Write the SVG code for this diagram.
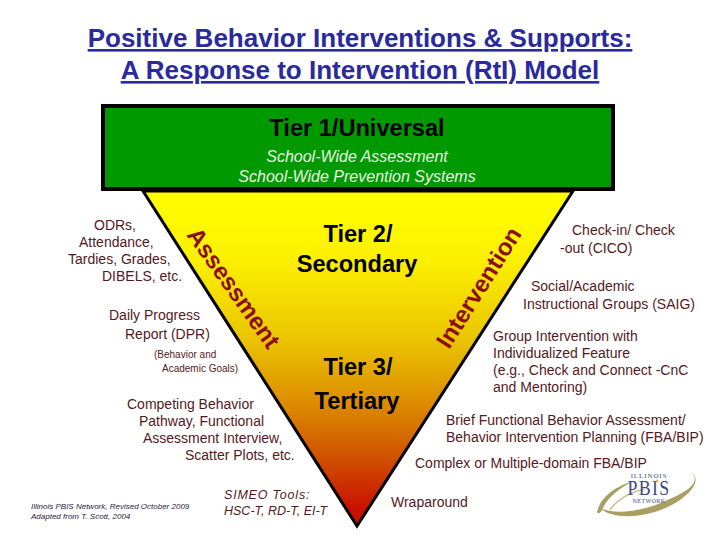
<svg xmlns="http://www.w3.org/2000/svg" width="720" height="540" viewBox="0 0 720 540">
<style>
text{font-family:"Liberation Sans",Arial,sans-serif}
.title{font-size:26px;font-weight:bold;fill:#2a2a9c;text-decoration:underline;text-anchor:middle}
.tier{font-size:23.6px;font-weight:bold;fill:#000;text-anchor:middle}
.sub{font-size:16px;font-style:italic;fill:#e8f5e0;text-anchor:middle}
.note{font-size:14px;fill:#551822}
.small{font-size:10px;fill:#551822}
.tiny{font-size:8px;font-style:italic;fill:#2a1a40}
.sim{font-size:12.5px;font-style:italic;fill:#551822}
.band{font-size:24px;font-weight:bold;fill:#8b0f0f}
.logo{font-family:"Liberation Serif",serif;fill:#3f4a82;text-anchor:middle}
.swoosh{fill:#a89f60}
</style>
<defs>
<linearGradient id="fade" x1="0" y1="0" x2="0" y2="1">
<stop offset="0" stop-color="#ffff00"/><stop offset="0.2" stop-color="#fcf000"/><stop offset="0.445" stop-color="#eac400"/><stop offset="0.624" stop-color="#dd8f00"/><stop offset="0.8" stop-color="#cf5000"/><stop offset="0.95" stop-color="#c81000"/>
</linearGradient>
<path id="assessPath" d="M186 235L272 356"/>
<path id="intervPath" d="M449 350L528 225"/>
</defs>
<g id="title">
<text class="title" x="360" y="47">Positive Behavior Interventions &amp; Supports:</text>
<text class="title" x="360" y="79">A Response to Intervention (RtI) Model</text>
</g>
<g id="triangle">
<polygon points="143,191 573,191 357,526" fill="url(#fade)" stroke="#000" stroke-width="3"/>
<text class="band"><textPath href="#assessPath">Assessment</textPath></text>
<text class="band"><textPath href="#intervPath">Intervention</textPath></text>
<text class="tier" x="358" y="242">Tier 2/</text>
<text class="tier" x="357" y="272">Secondary</text>
<text class="tier" x="358" y="375">Tier 3/</text>
<text class="tier" x="357" y="409">Tertiary</text>
</g>
<g id="tier1">
<rect x="103" y="106" width="510" height="83" fill="#009a00" stroke="#000" stroke-width="4"/>
<text class="tier" x="357" y="136">Tier 1/Universal</text>
<text class="sub" x="357" y="162">School-Wide Assessment</text>
<text class="sub" x="357" y="182">School-Wide Prevention Systems</text>
</g>
<g id="assessment-notes">
<text class="note" x="94" y="230">ODRs,</text>
<text class="note" x="79" y="247">Attendance,</text>
<text class="note" x="68" y="264">Tardies, Grades,</text>
<text class="note" x="102" y="281">DIBELS, etc.</text>
<text class="note" x="109" y="320">Daily Progress</text>
<text class="note" x="125" y="339">Report (DPR)</text>
<text class="small" x="154" y="358">(Behavior and</text>
<text class="small" x="162" y="372">Academic Goals)</text>
<text class="note" x="127" y="409">Competing Behavior</text>
<text class="note" x="139" y="426">Pathway, Functional</text>
<text class="note" x="143" y="443">Assessment Interview,</text>
<text class="note" x="185" y="460">Scatter Plots, etc.</text>
<text class="sim" x="224" y="499" letter-spacing=".8">SIMEO Tools:</text>
<text class="sim" x="224" y="515">HSC-T, RD-T, EI-T</text>
<text class="tiny" x="31" y="509">Illinois PBIS Network, Revised October 2009</text>
<text class="tiny" x="31" y="519">Adapted from T. Scott, 2004</text>
</g>
<g id="intervention-notes">
<text class="note" x="572" y="235">Check-in/ Check</text>
<text class="note" x="560" y="253">-out (CICO)</text>
<text class="note" x="531" y="291">Social/Academic</text>
<text class="note" x="523" y="309">Instructional Groups (SAIG)</text>
<text class="note" x="493" y="341">Group Intervention with</text>
<text class="note" x="493" y="358">Individualized Feature</text>
<text class="note" x="493" y="375">(e.g., Check and Connect -CnC</text>
<text class="note" x="493" y="392">and Mentoring)</text>
<text class="note" x="446" y="425">Brief Functional Behavior Assessment/</text>
<text class="note" x="446" y="442">Behavior Intervention Planning (FBA/BIP)</text>
<text class="note" x="415" y="468">Complex or Multiple-domain FBA/BIP</text>
<text class="note" x="391" y="507">Wraparound</text>
</g>
<g id="logo">
<path class="swoosh" d="M597 512C600 498 615 486 632 482C616 490 606 500 602 510C600 514 598 514 597 512Z"/>
<path class="swoosh" d="M600 508C612 520 650 520 680 500C694 490 700 480 692 472C700 482 690 490 672 498C645 512 615 515 600 508Z"/>
<path d="M610 510C618 498 632 492 645 489" fill="none" stroke="#c8c290" stroke-width="1.5"/>
<text class="logo" x="649" y="478" font-size="7" letter-spacing=".9">ILLINOIS</text>
<text class="logo" transform="translate(649 495) scale(.85 1)" font-size="21" letter-spacing="1.5">PBIS</text>
<circle cx="657" cy="481" r="1.6" fill="#d9b94a"/>
<text class="logo" x="649" y="503" font-size="6" letter-spacing=".4">NETWORK</text>
</g>
</svg>
